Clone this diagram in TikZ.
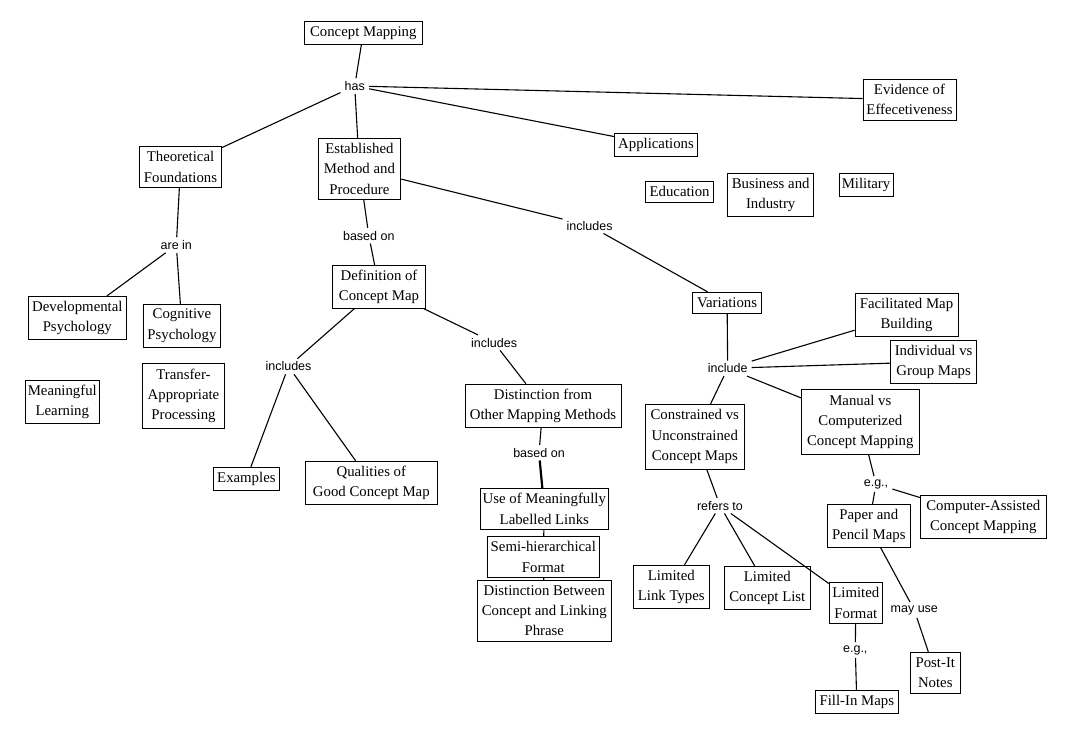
\documentclass[tikz,border=0pt]{standalone}
\usepackage{fontspec}
\setmainfont{Liberation Serif}
\newfontfamily\labfont{Liberation Sans}
\begin{document}
\begin{tikzpicture}[x=1pt,y=-1pt,
  box/.style={draw, line width=0.9pt, align=center, inner xsep=1pt, inner ysep=1pt,
    font=\fontsize{14.8}{20.3}\selectfont},
  lab/.style={font=\labfont\fontsize{12.5}{14}\selectfont, inner xsep=4pt, inner ysep=3pt},
  link/.style={line width=1.1pt},
  boldlink/.style={line width=2.2pt}]
\useasboundingbox[fill=white] (0,0) rectangle (1069,735);
% concept boxes
\node[box, minimum width=118pt, minimum height=23pt] (cm) at (363.3,32.8) {Concept Mapping};
\node[box, minimum width=82pt, minimum height=41pt] (tf) at (180.5,166.8) {Theoretical\\Foundations};
\node[box, minimum width=82.3pt, minimum height=61pt] (emp) at (359.4,168.8) {Established\\Method and\\Procedure};
\node[box, minimum width=83.3pt, minimum height=22.7pt] (app) at (656,144.7) {Applications};
\node[box, minimum width=93pt, minimum height=40.7pt] (eoe) at (909.5,99.7) {Evidence of\\Effecetiveness};
\node[box, minimum width=67.8pt, minimum height=20.7pt] (edu) at (679.6,191.7) {Education};
\node[box, minimum width=86pt, minimum height=42.7pt] (bi) at (770.7,194.7) {Business and\\Industry};
\node[box, minimum width=54pt, minimum height=23pt] (mil) at (866,184.7) {Military};
\node[box, minimum width=98.2pt, minimum height=42.7pt] (dp) at (77.3,317.7) {Developmental\\Psychology};
\node[box, minimum width=77.1pt, minimum height=43pt] (cp) at (181.9,325.8) {Cognitive\\Psychology};
\node[box, minimum width=93.3pt, minimum height=42.6pt] (dcm) at (379,287) {Definition of\\Concept Map};
\node[box, minimum width=69.2pt, minimum height=21pt] (var) at (727.1,302.8) {Variations};
\node[box, minimum width=102.9pt, minimum height=42.7pt] (fmb) at (906.5,314.7) {Facilitated Map\\Building};
\node[box, minimum width=86pt, minimum height=43pt] (ivg) at (933.6,361.8) {Individual vs\\Group Maps};
\node[box, minimum width=74pt, minimum height=42.7pt] (ml) at (62.3,401.7) {Meaningful\\Learning};
\node[box, minimum width=82.3pt, minimum height=65pt] (tap) at (183.5,395.8) {Transfer-\\Appropriate\\Processing};
\node[box, minimum width=156pt, minimum height=43pt] (dfo) at (543,405.8) {Distinction from\\Other Mapping Methods};
\node[box, minimum width=99pt, minimum height=64.7pt] (cvu) at (694.8,436.7) {Constrained vs\\Unconstrained\\Concept Maps};
\node[box, minimum width=118pt, minimum height=65pt] (mvc) at (860.3,421.8) {Manual vs\\Computerized\\Concept Mapping};
\node[box, minimum width=65.7pt, minimum height=23pt] (ex) at (246.4,478.8) {Examples};
\node[box, minimum width=132pt, minimum height=43pt] (qgc) at (371.3,482.8) {Qualities of\\Good Concept Map};
\node[box, minimum width=126pt, minimum height=42.6pt] (casm) at (983.3,517) {Computer-Assisted\\Concept Mapping};
\node[box, minimum width=83pt, minimum height=43pt] (ppm) at (868.8,525.8) {Paper and\\Pencil Maps};
\node[box, minimum width=127.7pt, minimum height=41pt] (uml) at (544.3,508.8) {Use of Meaningfully\\Labelled Links};
\node[box, minimum width=111.6pt, minimum height=41pt] (shf) at (543.3,556.8) {Semi-hierarchical\\Format};
\node[box, minimum width=134pt, minimum height=60.7pt] (dbc) at (544.3,610.7) {Distinction Between\\Concept and Linking\\Phrase};
\node[box, minimum width=76pt, minimum height=43pt] (llt) at (671.3,586.8) {Limited\\Link Types};
\node[box, minimum width=86pt, minimum height=43pt] (lcl) at (767.3,587.8) {Limited\\Concept List};
\node[box, minimum width=53pt, minimum height=41pt] (lf) at (855.8,602.8) {Limited\\Format};
\node[box, minimum width=83pt, minimum height=23pt] (fim) at (856.8,701.8) {Fill-In Maps};
\node[box, minimum width=50pt, minimum height=41pt] (pin) at (935.3,672.8) {Post-It\\Notes};
% linking phrases
\node[lab] (has) at (354.7,86) {has};
\node[lab] (arein) at (176.3,245) {are in};
\node[lab] (bo1) at (368.8,235.7) {based on};
\node[lab] (inc1) at (589.6,225.7) {includes};
\node[lab] (inc2) at (494.1,342.7) {includes};
\node[lab] (inc3) at (288.5,366.5) {includes};
\node[lab] (incl) at (727.7,368.3) {include};
\node[lab] (bo2) at (539,452.7) {based on};
\node[lab] (eg1) at (876,484) {e.g.,};
\node[lab] (ref) at (720,505.7) {refers to};
\node[lab] (may) at (914.3,610) {may use};
\node[lab] (eg2) at (855.3,650) {e.g.,};
% connectors
\draw[link] (cm) -- (has);
\draw[link] (has) -- (tf);
\draw[link] (has) -- (emp);
\draw[link] (has) -- (app);
\draw[link] (has) -- (eoe);
\draw[link] (tf) -- (arein);
\draw[link] (arein) -- (dp);
\draw[link] (arein) -- (cp);
\draw[link] (emp) -- (bo1);
\draw[link] (bo1) -- (dcm);
\draw[link] (emp) -- (inc1);
\draw[link] (inc1) -- (var);
\draw[link] (dcm) -- (inc3);
\draw[link] (inc3) -- (ex);
\draw[link] (inc3) -- (qgc);
\draw[link] (dcm) -- (inc2);
\draw[link] (inc2) -- (dfo);
\draw[link] (dfo) -- (bo2);
\draw[boldlink] (bo2) -- (uml);
\draw[link] (uml) -- (shf);
\draw[link] (shf) -- (dbc);
\draw[link] (var) -- (incl);
\draw[link] (incl) -- (fmb);
\draw[link] (incl) -- (ivg);
\draw[link] (incl) -- (cvu);
\draw[link] (incl) -- (mvc);
\draw[link] (cvu) -- (ref);
\draw[link] (ref) -- (llt);
\draw[link] (ref) -- (lcl);
\draw[link] (ref) -- (lf);
\draw[link] (mvc) -- (eg1);
\draw[link] (eg1) -- (ppm);
\draw[link] (eg1) -- (casm);
\draw[link] (ppm) -- (may);
\draw[link] (may) -- (pin);
\draw[link] (lf) -- (eg2);
\draw[link] (eg2) -- (fim);
\end{tikzpicture}
\end{document}
